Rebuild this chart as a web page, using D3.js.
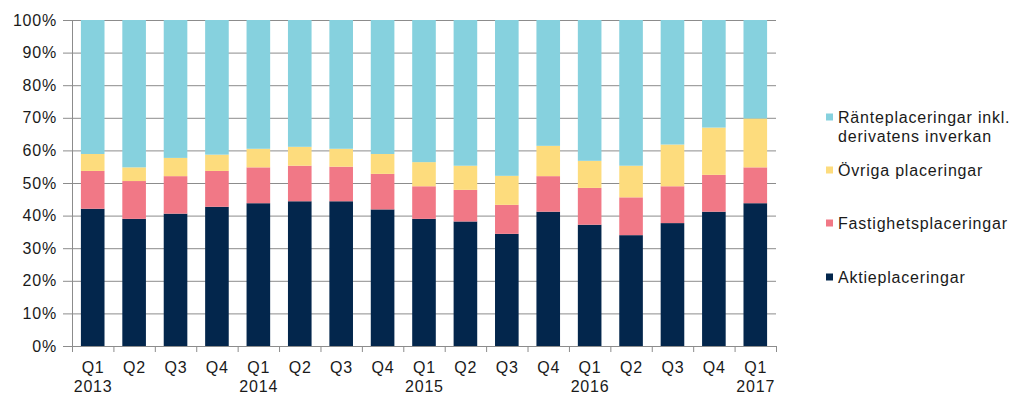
<!DOCTYPE html>
<html><head><meta charset="utf-8">
<script src="https://cdn.jsdelivr.net/npm/d3@7"></script>
<style>
html,body{margin:0;padding:0;background:#fff;}
svg{display:block;font-family:"Liberation Sans",Arial,sans-serif;}
svg text{letter-spacing:0.8px;}
</style></head>
<body><svg id="c" width="1024" height="418"></svg>
<script>
const quarters = ["Q1","Q2","Q3","Q4","Q1","Q2","Q3","Q4","Q1","Q2","Q3","Q4","Q1","Q2","Q3","Q4","Q1"];
const years    = ["2013","","","","2014","","","","2015","","","","2016","","","","2017"];
// shares in percent
const aktie     = [42.1,39.0,40.6,42.7,43.8,44.4,44.4,41.9,39.0,38.2,34.4,41.2,37.2,34.0,37.7,41.2,43.8];
const fastighet = [11.6,11.6,11.5,11.0,11.0,10.9,10.6,10.9,10.0, 9.7, 8.9,10.9,11.3,11.6,11.3,11.3,11.0];
const ovriga    = [ 5.2, 4.2, 5.6, 5.0, 5.7, 5.8, 5.5, 6.1, 7.4, 7.4, 8.9, 9.3, 8.3, 9.7,12.8,14.5,15.0];
const rante     = aktie.map((d,i)=>+(100-d-fastighet[i]-ovriga[i]).toFixed(1));
const yTicks = [0,10,20,30,40,50,60,70,80,90,100];

const seriesNames = ["Aktieplaceringar","Fastighetsplaceringar","Övriga placeringar","Ränteplaceringar inkl. derivatens inverkan"];
const colors = ["#03264c","#f17886","#fddc7d","#86d1de"];

const svg = d3.select("#c");
const x0 = 72, x1 = 776, yTop = 20, yBot = 346;
const x = d3.scaleBand().domain(d3.range(quarters.length)).range([x0,x1]).paddingInner(0.43).paddingOuter(0.215);
const y = d3.scaleLinear().domain([0,100]).range([yBot,yTop]);

// gridlines
svg.append("g").selectAll("line").data(yTicks).join("line")
  .attr("x1",x0-9).attr("x2",x1).attr("y1",d=>y(d)+0.5).attr("y2",d=>y(d)+0.5)
  .attr("stroke","#8c8c8c").attr("stroke-width",1);

const rows = quarters.map((q,i)=>({i, a:aktie[i], f:fastighet[i], o:ovriga[i], r:rante[i]}));
const stack = d3.stack().keys(["a","f","o","r"])(rows);
svg.append("g").selectAll("g").data(stack).join("g").attr("fill",(d,k)=>colors[k])
  .selectAll("rect").data(d=>d).join("rect")
  .attr("x",d=>x(d.data.i)).attr("width",x.bandwidth())
  .attr("y",d=>y(d[1])).attr("height",d=>y(d[0])-y(d[1]));

// y axis
svg.append("line").attr("x1",x0+0.5).attr("x2",x0+0.5).attr("y1",yTop).attr("y2",yBot+0.5).attr("stroke","#8c8c8c");
svg.append("g").selectAll("text").data(yTicks).join("text")
  .attr("x",57).attr("y",d=>y(d)).attr("dy","0.35em").attr("text-anchor","end")
  .attr("font-size",16).attr("fill","#1a1a1a").text(d=>d+"%");

// x axis
svg.append("line").attr("x1",x0).attr("x2",x1).attr("y1",yBot+0.5).attr("y2",yBot+0.5).attr("stroke","#8c8c8c");
svg.append("g").selectAll("line").data(d3.range(quarters.length+1)).join("line")
  .attr("x1",d=>x0+d*(x1-x0)/quarters.length+0.5).attr("x2",d=>x0+d*(x1-x0)/quarters.length+0.5)
  .attr("y1",yBot).attr("y2",yBot+6).attr("stroke","#8c8c8c");
svg.append("g").selectAll("text").data(quarters).join("text")
  .attr("x",(d,i)=>x(i)+x.bandwidth()/2+0.4).attr("y",373).attr("text-anchor","middle")
  .attr("font-size",16).attr("fill","#1a1a1a").text(d=>d);
svg.append("g").selectAll("text").data(years).join("text")
  .attr("x",(d,i)=>x(i)+x.bandwidth()/2+0.4).attr("y",392).attr("text-anchor","middle")
  .attr("font-size",16).attr("fill","#1a1a1a").text(d=>d);

// legend
const leg = [
  {k:3, lines:["Ränteplaceringar inkl.","derivatens inverkan"], cy:117},
  {k:2, lines:["Övriga placeringar"], cy:170},
  {k:1, lines:["Fastighetsplaceringar"], cy:223},
  {k:0, lines:["Aktieplaceringar"], cy:277}
];
const lg = svg.append("g").selectAll("g").data(leg).join("g");
lg.append("rect").attr("x",826).attr("y",d=>d.cy-3.5).attr("width",7).attr("height",7).attr("fill",d=>colors[d.k]);
lg.each(function(d){
  d3.select(this).selectAll("text").data(d.lines).join("text")
    .attr("x",838).attr("y",(t,j)=>d.cy+j*19).attr("dy","0.35em")
    .attr("font-size",16).attr("fill","#1a1a1a").text(t=>t);
});
</script></body></html>
